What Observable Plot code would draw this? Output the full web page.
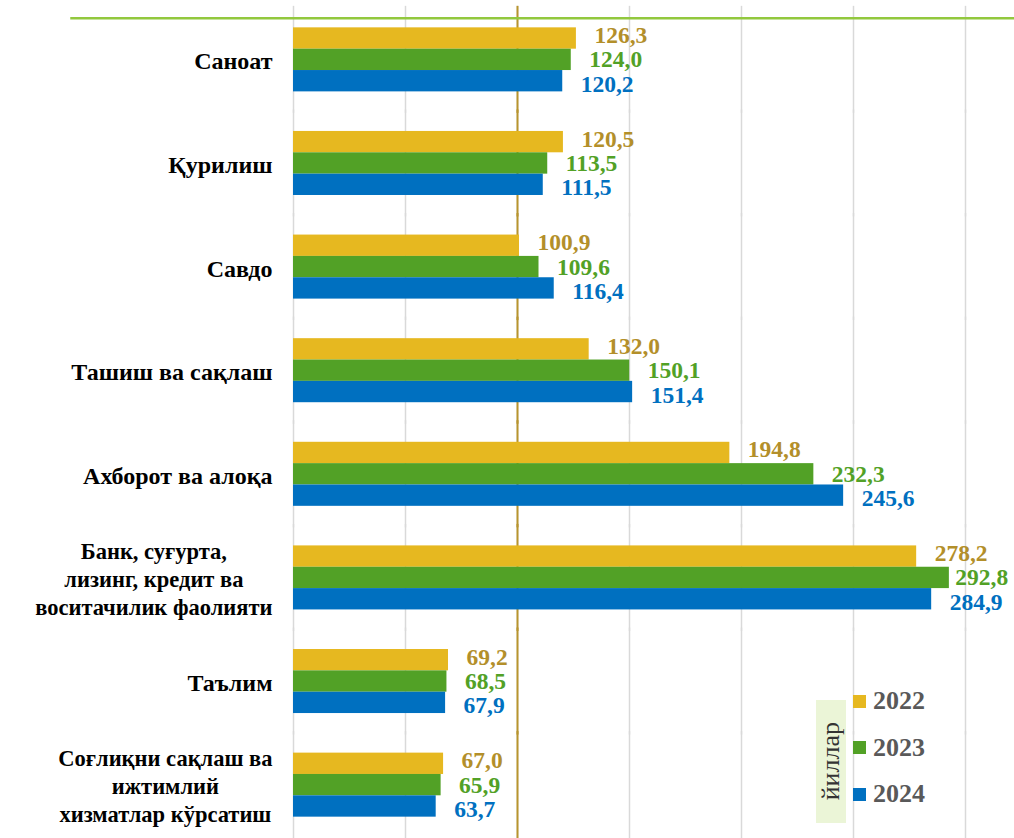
<!DOCTYPE html>
<html>
<head>
<meta charset="utf-8">
<script src="https://cdn.jsdelivr.net/npm/d3@7"></script>
<script src="https://cdn.jsdelivr.net/npm/@observablehq/plot@0.6"></script>
<style>
  html, body { margin: 0; padding: 0; background: #fff; }
  #wrap { position: relative; width: 1014px; height: 838px; font-family: "Liberation Serif", "Times New Roman", serif; }
  .legend-box { position: absolute; left: 816px; top: 700px; width: 30px; height: 123px; background: #ebf5d7;
    display: flex; align-items: center; justify-content: center; }
  .legend-box span { writing-mode: vertical-rl; transform: rotate(180deg); font-size: 26px; color: #333; line-height: 30px; }
  .legend-item { position: absolute; left: 853px; display: flex; align-items: center; font-size: 26px; font-weight: bold; color: #595959; }
  .legend-item i { display: inline-block; width: 13px; height: 13px; margin-right: 7px; }
</style>
</head>
<body>
<div id="wrap"></div>
<script>
const categories = [
  "Саноат",
  "Қурилиш",
  "Савдо",
  "Ташиш ва сақлаш",
  "Ахборот ва алоқа",
  "Банк, суғурта,\nлизинг, кредит ва\nвоситачилик фаолияти",
  "Таълим",
  "Соғлиқни сақлаш ва\nижтимлий\nхизматлар кўрсатиш"
];
const years = ["2022", "2023", "2024"];
const values2022 = [126.3, 120.5, 100.9, 132.0, 194.8, 278.2, 69.2, 67.0];
const values2023 = [124.0, 113.5, 109.6, 150.1, 232.3, 292.8, 68.5, 65.9];
const values2024 = [120.2, 111.5, 116.4, 151.4, 245.6, 284.9, 67.9, 63.7];
const gridTicks = [0, 50, 100, 150, 200, 250, 300];
const referenceValue = [100];
const legendTitle = "йиллар";

const barColors = ["#e6b820", "#52a126", "#0070c0"];
const labelColors = ["#b38f2a", "#52a126", "#0070c0"];
const labelShift = [-3, 0, 3];

const series = [values2022, values2023, values2024];
const data = [];
categories.forEach((c, i) => {
  years.forEach((y, j) => data.push({category: c, year: y, value: series[j][i]}));
});
const fmt = v => d3.format(".1f")(v).replace(".", ",");

// value labels: those of bars that reach the right edge sit a little closer to the bar
const labelMarks = [];
years.forEach((yr, j) => {
  [[d => d.value <= 285, 18], [d => d.value > 285, 6]].forEach(([cond, dx]) => {
    labelMarks.push(Plot.text(data, {
      filter: d => d.year === yr && cond(d),
      x: "value", y: "year", fy: "category",
      text: d => fmt(d.value),
      textAnchor: "start", dx, dy: labelShift[j],
      fill: labelColors[j], fontSize: 23.5, fontWeight: "bold"
    }));
  });
});

const chart = Plot.plot({
  width: 1014,
  height: 838,
  marginLeft: 293,
  marginRight: 49,
  marginTop: 6,
  marginBottom: 0,
  style: {fontFamily: "'Liberation Serif', 'Times New Roman', serif", background: "white", overflow: "visible"},
  x: {domain: [0, 300], axis: null},
  y: {domain: years, padding: 0, round: false, axis: null},
  fy: {domain: categories, paddingInner: 0.382, paddingOuter: 0.206, round: false, label: null},
  color: {domain: years, range: barColors},
  marks: [
    Plot.ruleX(gridTicks, {stroke: "#d9d9d9", strokeWidth: 1.5, insetTop: -21.5, insetBottom: -21.5}),
    Plot.ruleX(referenceValue, {stroke: "#b8952e", strokeWidth: 2, insetTop: -21.5, insetBottom: -21.5}),
    Plot.frame({facet: "super", anchor: "top", stroke: "#92c83e", strokeWidth: 2.5, insetLeft: -222, insetRight: -49, dy: -9.5}),
    Plot.barX(data, {x: "value", y: "year", fy: "category", fill: "year"}),
    ...labelMarks,
    Plot.axisFy({anchor: "left", tickSize: 0, tickPadding: 21, label: null,
      fontSize: 24, fontWeight: "bold", fill: "black", lineHeight: 1.25})
  ]
});

const wrap = document.getElementById("wrap");
wrap.appendChild(chart);

// multi-line category labels: slightly smaller, lines centered on the widest line
d3.select(chart).selectAll("text").each(function() {
  const tspans = this.querySelectorAll("tspan");
  if (tspans.length > 1) {
    this.setAttribute("font-size", 22.5);
    this.style.fontSize = "22.5px";
    let maxW = 0;
    tspans.forEach(t => { maxW = Math.max(maxW, t.getComputedTextLength()); });
    this.setAttribute("text-anchor", "middle");
    tspans.forEach(t => t.setAttribute("x", -maxW / 2));
  }
});

// legend
const box = document.createElement("div");
box.className = "legend-box";
box.innerHTML = `<span>${legendTitle}</span>`;
wrap.appendChild(box);
years.forEach((yr, j) => {
  const item = document.createElement("div");
  item.className = "legend-item";
  item.style.top = (686 + j * 46.5) + "px";
  item.innerHTML = `<i style="background:${barColors[j]}"></i>${yr}`;
  wrap.appendChild(item);
});
</script>
</body>
</html>
